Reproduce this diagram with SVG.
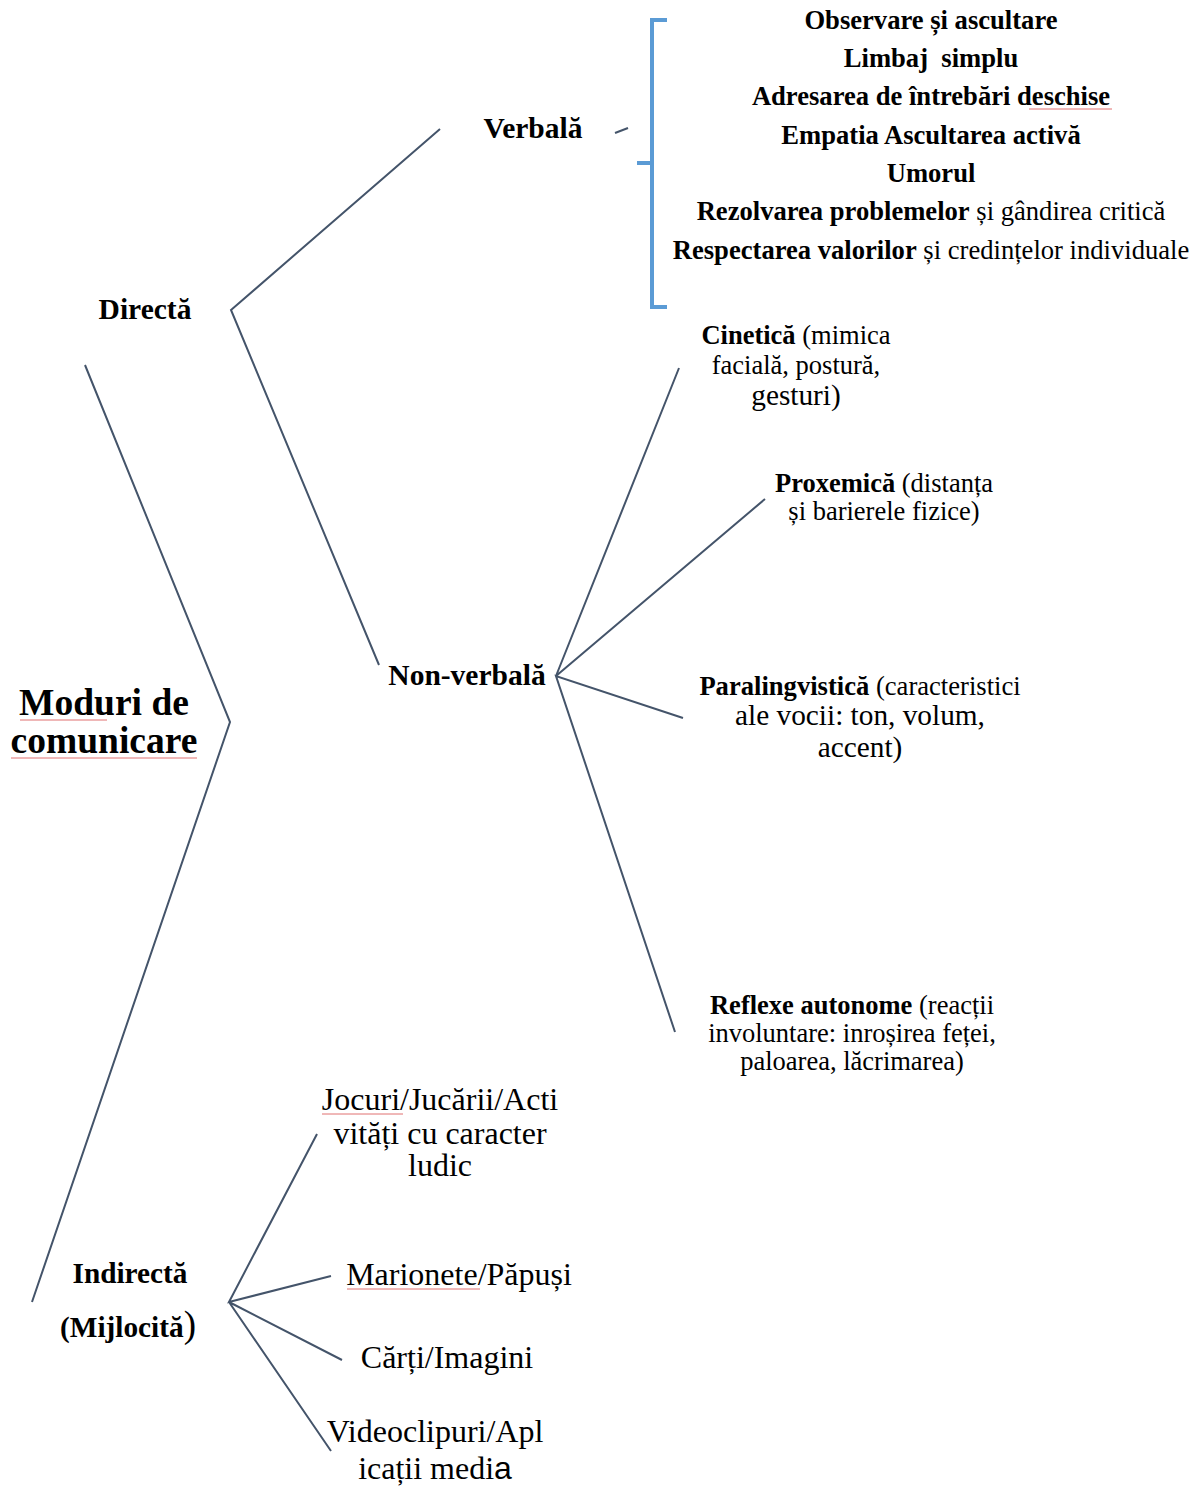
<svg xmlns="http://www.w3.org/2000/svg" width="1203" height="1486" viewBox="0 0 1203 1486">
<style>
text{font-family:"Liberation Serif","Times New Roman",serif;fill:#000;}
.b{font-weight:bold;}
.c{text-anchor:middle;}
.ln{fill:none;stroke:#44546A;stroke-width:2;stroke-linejoin:miter;}
.br{fill:none;stroke:#5B9BD5;stroke-width:4;}
.sp{stroke:#E07070;stroke-width:1;fill:none;}
</style>
<rect width="1203" height="1486" fill="#fff"/>
<g id="connectors">
<polyline class="ln" points="85,365 230,722 32,1302"/>
<polyline class="ln" points="440,129 231,310 379,665"/>
<line class="ln" x1="615" y1="133" x2="628" y2="128"/>
<polyline class="ln" points="679,368 556,676 765,499"/>
<polyline class="ln" points="683,718 556,676 675,1032"/>
<polyline class="ln" points="317,1134 229,1302 331,1276"/>
<polyline class="ln" points="342,1360 229,1302 331,1451"/>
<path class="br" d="M667,20 H652 V307 H667 M652,163 H637"/>
</g>
<g id="root">
<text class="b c" x="104" y="715" font-size="37.5">Moduri de</text>
<text class="b c" x="104" y="753" font-size="37.5">comunicare</text>
<path class="sp" d="M20,720 H107 M11,758 H197"/>
</g>
<g id="directa"><text class="b c" x="145" y="319" font-size="29.5">Directă</text></g>
<g id="verbala"><text class="b c" x="533" y="138" font-size="29.5">Verbală</text></g>
<g id="verbala-list" font-size="26.6">
<text class="b c" x="931" y="29">Observare și ascultare</text>
<text class="b c" x="931" y="67" xml:space="preserve">Limbaj  simplu</text>
<text class="b c" x="931" y="105">Adresarea de întrebări deschise</text>
<path class="sp" d="M1029,109 H1112"/>
<text class="b c" x="931" y="144">Empatia Ascultarea activă</text>
<text class="b c" x="931" y="182">Umorul</text>
<text class="c" x="931" y="220"><tspan class="b">Rezolvarea problemelor</tspan> și gândirea critică</text>
<text class="c" x="931" y="259"><tspan class="b">Respectarea valorilor</tspan> și credințelor individuale</text>
</g>
<g id="nonverbala"><text class="b c" x="467" y="685" font-size="29.5">Non-verbală</text></g>
<g id="cinetica">
<text class="c" x="796" y="344" font-size="26.5"><tspan class="b">Cinetică</tspan> (mimica</text>
<text class="c" x="796" y="374" font-size="26.5">facială, postură,</text>
<text class="c" x="796" y="405" font-size="29.3">gesturi)</text>
</g>
<g id="proxemica">
<text class="c" x="884" y="492" font-size="26.5"><tspan class="b">Proxemică</tspan> (distanța</text>
<text class="c" x="884" y="520" font-size="26.5">și barierele fizice)</text>
</g>
<g id="paralingvistica">
<text class="c" x="860" y="695" font-size="26.6"><tspan class="b">Paralingvistică</tspan> (caracteristici</text>
<text class="c" x="860" y="725" font-size="29.3">ale vocii: ton, volum,</text>
<text class="c" x="860" y="757" font-size="29.3">accent)</text>
</g>
<g id="reflexe">
<text class="c" x="852" y="1014" font-size="26.5"><tspan class="b">Reflexe autonome</tspan> (reacții</text>
<text class="c" x="852" y="1042" font-size="26.5">involuntare: inroșirea feței,</text>
<text class="c" x="852" y="1070" font-size="26.5">paloarea, lăcrimarea)</text>
</g>
<g id="indirecta">
<text class="b c" x="130" y="1283" font-size="29.3">Indirectă</text>
<text class="b" x="60" y="1337" font-size="29.3">(Mijlocită<tspan font-weight="normal" font-size="37">)</tspan></text>
</g>
<g id="jocuri">
<text class="c" x="440" y="1110" font-size="32">Jocuri/Jucării/Acti</text>
<path class="sp" d="M322,1114 H403"/>
<text class="c" x="440" y="1144" font-size="32">vități cu caracter</text>
<text class="c" x="440" y="1176" font-size="32">ludic</text>
</g>
<g id="marionete">
<text class="c" x="459" y="1285" font-size="32">Marionete/Păpuși</text>
<path class="sp" d="M347,1289 H480"/>
</g>
<g id="carti"><text class="c" x="447" y="1368" font-size="32">Cărți/Imagini</text></g>
<g id="video">
<text class="c" x="435" y="1442" font-size="32">Videoclipuri/Apl</text>
<text class="c" x="435" y="1479" font-size="32">icații medi<tspan font-family="Liberation Sans, Arial, sans-serif">a</tspan></text>
</g>
</svg>
